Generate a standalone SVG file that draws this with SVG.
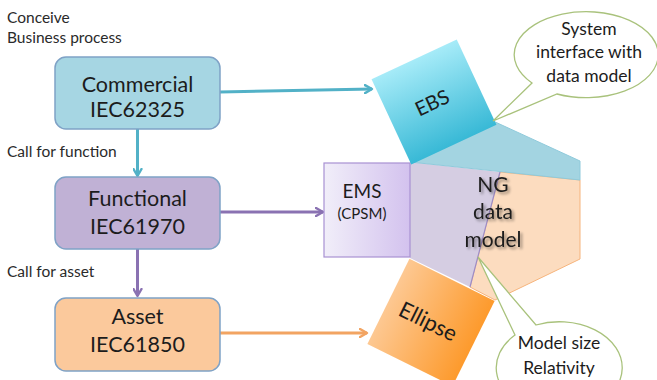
<svg xmlns="http://www.w3.org/2000/svg" width="657" height="380" viewBox="0 0 657 380">
  <style>
    text { font-family: Lato, "Open Sans", "Liberation Sans", sans-serif; fill: #1c1c1c; }
    .lbl { font-size: 15.5px; fill: #2a2a2a; }
    .box { stroke: #7fa2c6; stroke-width: 1.5; }
    .boxtxt { font-size: 21.5px; text-anchor: middle; }
    .mid { text-anchor: middle; }
    .callout { fill: #ffffff; stroke: #a9c27c; stroke-width: 1.3; }
    .calltxt { font-size: 17.5px; text-anchor: middle; }
    .conn { fill: none; stroke-width: 3; }
  </style>
  <defs>
    <marker id="arrTeal" viewBox="0 0 10 10" refX="8" refY="5" markerWidth="10" markerHeight="10" markerUnits="userSpaceOnUse" orient="auto">
      <path d="M1,1 L8,5 L1,9" fill="none" stroke="#52b1c7" stroke-width="2.4" stroke-linecap="round" stroke-linejoin="round"/>
    </marker>
    <marker id="arrPurple" viewBox="0 0 10 10" refX="8" refY="5" markerWidth="10" markerHeight="10" markerUnits="userSpaceOnUse" orient="auto">
      <path d="M1,1 L8,5 L1,9" fill="none" stroke="#8a72b2" stroke-width="2.4" stroke-linecap="round" stroke-linejoin="round"/>
    </marker>
    <marker id="arrOrange" viewBox="0 0 10 10" refX="8" refY="5" markerWidth="10" markerHeight="10" markerUnits="userSpaceOnUse" orient="auto">
      <path d="M1,1 L8,5 L1,9" fill="none" stroke="#f2a462" stroke-width="2.4" stroke-linecap="round" stroke-linejoin="round"/>
    </marker>
    <linearGradient id="gEbs" x1="0" y1="0" x2="0" y2="1">
      <stop offset="0" stop-color="#a6ebf8"/>
      <stop offset="1" stop-color="#38b9d6"/>
    </linearGradient>
    <linearGradient id="gEms" x1="0" y1="0" x2="1" y2="0">
      <stop offset="0" stop-color="#f1eef9"/>
      <stop offset="1" stop-color="#d3c2ee"/>
    </linearGradient>
    <linearGradient id="gEll" x1="0" y1="0" x2="1" y2="0">
      <stop offset="0" stop-color="#fdc892"/>
      <stop offset="1" stop-color="#fd9a2c"/>
    </linearGradient>
    <filter id="shadow" x="-20%" y="-20%" width="140%" height="140%">
      <feGaussianBlur in="SourceAlpha" stdDeviation="1.5"/>
      <feOffset dx="2" dy="2" result="b"/>
      <feComponentTransfer><feFuncA type="linear" slope="0.45"/></feComponentTransfer>
      <feMerge><feMergeNode/><feMergeNode in="SourceGraphic"/></feMerge>
    </filter>
  </defs>

  <!-- side labels -->
  <text class="lbl" x="7" y="23">Conceive</text>
  <text class="lbl" x="7" y="43">Business process</text>
  <text class="lbl" x="7" y="157">Call for function</text>
  <text class="lbl" x="7" y="277">Call for asset</text>

  <!-- connectors -->
  <g id="connectors">
    <path class="conn" stroke="#52b1c7" d="M220,92 L372,89" marker-end="url(#arrTeal)"/>
    <path class="conn" stroke="#52b1c7" d="M137.5,129 L137.5,176" marker-end="url(#arrTeal)"/>
    <path class="conn" stroke="#8a72b2" d="M220,212 L323,212" marker-end="url(#arrPurple)"/>
    <path class="conn" stroke="#8a72b2" d="M137.5,249 L137.5,296" marker-end="url(#arrPurple)"/>
    <path class="conn" stroke="#f2a462" d="M220,333 L367,333" marker-end="url(#arrOrange)"/>
  </g>

  <!-- process boxes -->
  <g id="commercial">
    <rect class="box" x="55" y="57" width="165" height="72" rx="11" fill="#a6d6e3"/>
    <text class="boxtxt" x="137.5" y="92">Commercial</text>
    <text class="boxtxt" x="137.5" y="117">IEC62325</text>
  </g>
  <g id="functional">
    <rect class="box" x="55" y="177" width="165" height="72" rx="11" fill="#c0b1d5"/>
    <text class="boxtxt" x="137.5" y="206">Functional</text>
    <text class="boxtxt" x="137.5" y="234">IEC61970</text>
  </g>
  <g id="asset">
    <rect class="box" x="55" y="298" width="165" height="73" rx="11" fill="#fbc99c"/>
    <text class="boxtxt" x="137.5" y="324">Asset</text>
    <text class="boxtxt" x="137.5" y="352">IEC61850</text>
  </g>

  <!-- hexagonal data model, split in three zones -->
  <g id="ng-data-model">
    <polygon points="500,172 580,180 580,259 495,300 470,287" fill="#fcdcbf" stroke="#f6b47c" stroke-width="1"/>
    <polygon points="410,162 500,172 470,287 410,258" fill="#d5cde2" stroke="none"/>
    <line x1="500" y1="172" x2="470" y2="287" stroke="#9d8cc6" stroke-width="1.2"/>
    <polygon points="410,162 493,121 580,161 580,180" fill="#a3d4e1" stroke="#8fcadb" stroke-width="1"/>
    <g filter="url(#shadow)">
      <text class="mid" x="493" y="192" font-size="21">NG</text>
      <text class="mid" x="493" y="219" font-size="21">data</text>
      <text class="mid" x="493" y="247" font-size="21">model</text>
    </g>
  </g>

  <!-- EMS -->
  <g id="ems">
    <rect x="324" y="163" width="86" height="94" fill="url(#gEms)" stroke="#a891d2" stroke-width="1.2"/>
    <text class="mid" x="362" y="198" font-size="19">EMS</text>
    <text class="mid" x="362" y="219" font-size="15">(CPSM)</text>
  </g>

  <!-- EBS -->
  <g id="ebs" transform="translate(434 102) rotate(-25)">
    <rect x="-47" y="-47" width="94" height="94" fill="url(#gEbs)"/>
    <text class="mid" x="-2" y="7" font-size="20">EBS</text>
  </g>

  <!-- Ellipse -->
  <g id="ellipse" transform="translate(431 322.5) rotate(26.3)">
    <rect x="-47.5" y="-47.5" width="95" height="95" fill="url(#gEll)"/>
    <text class="mid" x="-3" y="8" font-size="22">Ellipse</text>
  </g>

  <!-- callouts -->
  <g id="callout-interface">
    <path class="callout" d="M532,83 L493,121 L557,94 A72 43 0 1 0 532,83 Z"/>
    <text class="calltxt" x="589" y="35">System</text>
    <text class="calltxt" x="589" y="58">interface with</text>
    <text class="calltxt" x="589" y="82">data model</text>
  </g>
  <g id="callout-size">
    <path class="callout" d="M515,335 L478,257 L536,325 A63 46 0 1 1 515,335 Z"/>
    <text class="calltxt" x="559" y="349" font-size="18.5">Model size</text>
    <text class="calltxt" x="559" y="374" font-size="18.5">Relativity</text>
  </g>
</svg>
